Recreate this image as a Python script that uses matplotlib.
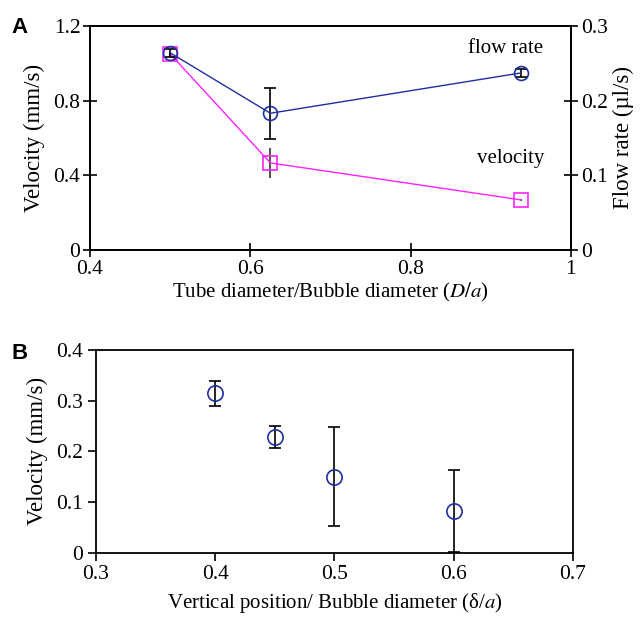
import matplotlib
matplotlib.use("Agg")
import matplotlib.pyplot as plt

# Panel A data
ratio_A = [0.5, 0.625, 0.9375]
flow_rate = [0.264, 0.183, 0.237]          # µl/s (right axis)
flow_err = [0.005, 0.034, 0.005]
velocity_A = [1.05, 0.466, 0.268]          # mm/s (left axis)
velocity_A_err = [0.01, 0.08, 0.005]

# Panel B data
pos_B = [0.4, 0.45, 0.5, 0.6]
velocity_B = [0.314, 0.228, 0.150, 0.082]
velocity_B_err = [0.024, 0.022, 0.097, 0.081]

blue = "#1f2fa0"
magenta = "#ff22ff"
plt.rcParams["font.family"] = ["Liberation Serif", "DejaVu Serif"]
plt.rcParams["mathtext.fontset"] = "stix"
tfs = 15.5   # tick labels
xfs = 15     # x labels
yfs = 16.5   # y labels

fig = plt.figure(figsize=(6.43, 6.17), dpi=100)

# ---------- Panel A ----------
axA = fig.add_axes([0.140, 0.595, 0.748, 0.363])
axA.errorbar(ratio_A, velocity_A, yerr=velocity_A_err, fmt="none", ecolor="#444444",
             elinewidth=1.3, capsize=0, zorder=2)
axA.plot(ratio_A, velocity_A, color=magenta, lw=1, marker="s", ms=10, mfc="none",
         mec=magenta, mew=1.2, zorder=3)
axA.set_xlim(0.4, 1.0)
axA.set_ylim(0, 1.2)
axA.set_xticks([0.4, 0.6, 0.8, 1.0])
axA.set_xticklabels(["0.4", "0.6", "0.8", "1"])
axA.set_yticks([0, 0.4, 0.8, 1.2])
axA.set_yticklabels(["0", "0.4", "0.8", "1.2"])
axA.set_xlabel("Tube diameter/Bubble diameter ($\\mathit{D/a}$)", fontsize=xfs, labelpad=2)
axA.set_ylabel("Velocity (mm/s)", fontsize=yfs, labelpad=6)
axA.tick_params(direction="inout", length=10, width=1.2, labelsize=tfs, pad=2)

axA2 = axA.twinx()
axA2.errorbar(ratio_A, flow_rate, yerr=flow_err, fmt="none", ecolor="black",
              elinewidth=1.2, capsize=4, capthick=1.2, zorder=2)
axA2.plot(ratio_A, flow_rate, color=blue, lw=1, marker="o", ms=10, mfc="none",
          mec=blue, mew=1.2, zorder=3)
axA2.set_ylim(0, 0.3)
axA2.set_yticks([0, 0.1, 0.2, 0.3])
axA2.set_yticklabels(["0", "0.1", "0.2", "0.3"])
axA2.set_ylabel("Flow rate (\u00b5l/s)", fontsize=yfs, labelpad=4)
axA2.tick_params(direction="inout", length=10, width=1.2, labelsize=tfs, pad=2)
for ax in (axA, axA2):
    for s in ax.spines.values():
        s.set_linewidth(1.3)

axA.text(0.918, 1.08, "flow rate", fontsize=xfs, ha="center", va="center")
axA.text(0.925, 0.49, "velocity", fontsize=xfs, ha="center", va="center")
fig.text(0.018, 0.956, "A", fontsize=16, fontweight="bold",
         family="Liberation Sans", va="center")

# ---------- Panel B ----------
axB = fig.add_axes([0.149, 0.104, 0.742, 0.329])
axB.errorbar(pos_B, velocity_B, yerr=velocity_B_err, fmt="none", ecolor="black",
             elinewidth=1.2, capsize=4, capthick=1.2, zorder=2)
axB.plot(pos_B, velocity_B, ls="none", marker="o", ms=11, mfc="none", mec=blue,
         mew=1.2, zorder=3)
axB.set_xlim(0.3, 0.7)
axB.set_ylim(0, 0.4)
axB.set_xticks([0.3, 0.4, 0.5, 0.6, 0.7])
axB.set_xticklabels(["0.3", "0.4", "0.5", "0.6", "0.7"])
axB.set_yticks([0, 0.1, 0.2, 0.3, 0.4])
axB.set_yticklabels(["0", "0.1", "0.2", "0.3", "0.4"])
axB.set_xlabel("Vertical position/ Bubble diameter (\u03b4/$\\mathit{a}$)", fontsize=xfs, labelpad=5)
axB.set_ylabel("Velocity (mm/s)", fontsize=yfs, labelpad=6)
axB.tick_params(direction="out", length=6, width=1.2, labelsize=tfs, pad=3)
for s in axB.spines.values():
    s.set_linewidth(1.3)
fig.text(0.018, 0.427, "B", fontsize=16, fontweight="bold",
         family="Liberation Sans", va="center")

fig.savefig("out.png", dpi=100)
